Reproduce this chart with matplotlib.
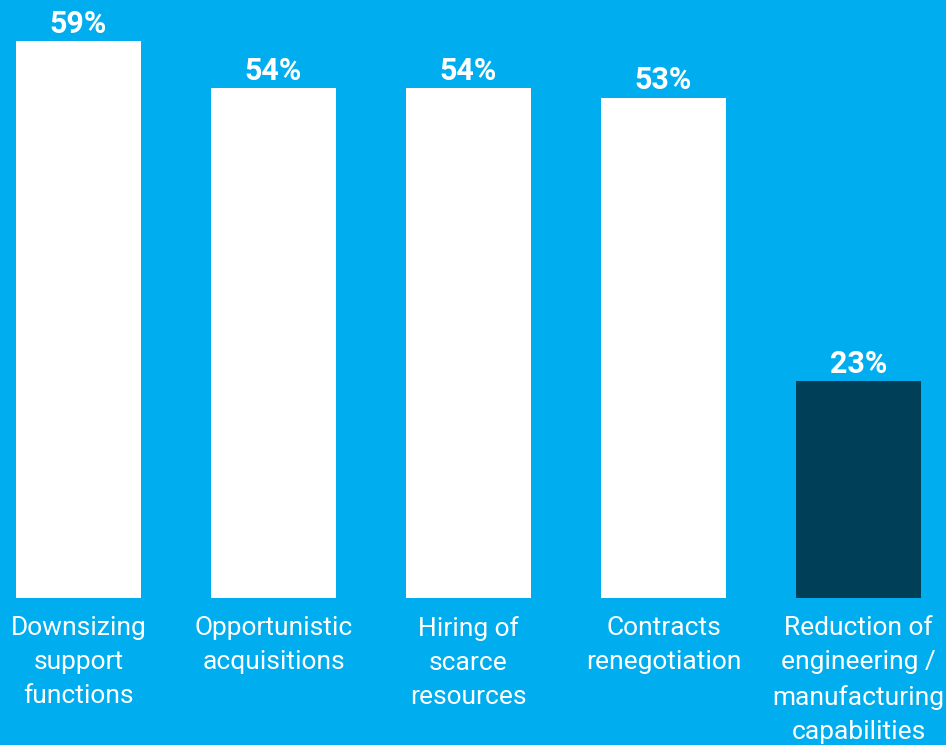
import matplotlib
matplotlib.use("Agg")
import matplotlib.pyplot as plt

categories = [
    "Downsizing\nsupport\nfunctions",
    "Opportunistic\nacquisitions",
    "Hiring of\nscarce\nresources",
    "Contracts\nrenegotiation",
    "Reduction of\nengineering /\nmanufacturing\ncapabilities",
]
shares = [59, 54, 54, 53, 23]
bar_colors = ["#FFFFFF", "#FFFFFF", "#FFFFFF", "#FFFFFF", "#003F58"]

BG = "#00AEEF"

fig = plt.figure(figsize=(9.46, 7.45), dpi=100)
fig.patch.set_facecolor(BG)
ax = fig.add_axes([0, 147 / 745, 1, 598 / 745])
ax.set_facecolor(BG)

x = list(range(len(shares)))
ax.bar(x, shares, width=0.641, color=bar_colors, edgecolor="none")

# value labels sit just above each bar
for xi, v in zip(x, shares):
    ax.annotate(f"{v}%", (xi, v), xytext=(0, 6), textcoords="offset points",
                ha="center", va="baseline", color="white", fontsize=22,
                fontweight="bold", family=["Roboto", "DejaVu Sans"])

ax.set_xlim(-0.4026, 4.449)
ax.set_ylim(0, 63.35)
ax.set_xticks(x, categories)
ax.tick_params(axis="x", length=0, pad=13, labelcolor="white", labelsize=19)
for lab in ax.get_xticklabels():
    lab.set_family(["Roboto", "DejaVu Sans"])
    lab.set_fontstretch("condensed")
    lab.set_linespacing(1.53)
    lab.set_verticalalignment("top")
ax.set_yticks([])
for s in ax.spines.values():
    s.set_visible(False)

fig.savefig("out.png", dpi=100, facecolor=BG)
